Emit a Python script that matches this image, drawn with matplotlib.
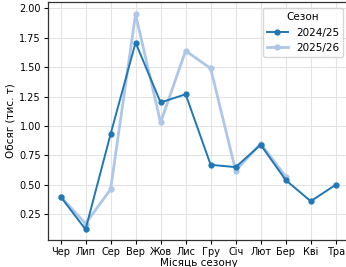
import matplotlib
matplotlib.use("Agg")
import matplotlib.pyplot as plt

months = ["Чер", "Лип", "Сер", "Вер", "Жов", "Лис", "Гру", "Січ", "Лют", "Бер", "Кві", "Тра"]
season_2024 = [0.40, 0.12, 0.93, 1.71, 1.20, 1.27, 0.67, 0.65, 0.84, 0.54, 0.36, 0.50]
season_2025 = [0.40, 0.17, 0.46, 1.95, 1.03, 1.64, 1.49, 0.62, 0.85, 0.57]

fig = plt.figure(figsize=(3.46, 2.67), dpi=100)
ax = fig.add_axes([48/346, 27/267, 301.5/346, 238/267])

x1 = list(range(len(season_2024)))
x2 = list(range(len(season_2025)))
ax.plot(x1, season_2024, color="#1f77b4", lw=1.4, marker="o", ms=3.5, label="2024/25", zorder=3)
ax.plot(x2, season_2025, color="#aec7e8", lw=2.0, marker="o", ms=3.5, label="2025/26", zorder=2)

ax.set_xticks(range(len(months)))
ax.set_xticklabels(months)
ax.set_xlim(-0.5, 11.55)
ax.set_ylim(0.03, 2.055)
ax.set_yticks([0.25, 0.5, 0.75, 1.0, 1.25, 1.5, 1.75, 2.0])
ax.tick_params(labelsize=7, length=3, width=0.8, pad=2)
ax.grid(True, color="#e3e3e3", lw=0.8)
ax.set_axisbelow(True)
for s in ax.spines.values():
    s.set_color("#333333")
    s.set_linewidth(0.9)
ax.set_xlabel("Місяць сезону", fontsize=7.5, labelpad=1)
ax.set_ylabel("Обсяг (тис. т)", fontsize=7.5, labelpad=3)
leg = ax.legend(title="Сезон", loc="upper right", fontsize=7.5, title_fontsize=7.5,
                frameon=True, edgecolor="#cccccc", borderaxespad=0.6)
fig.savefig("out.png", dpi=100)
